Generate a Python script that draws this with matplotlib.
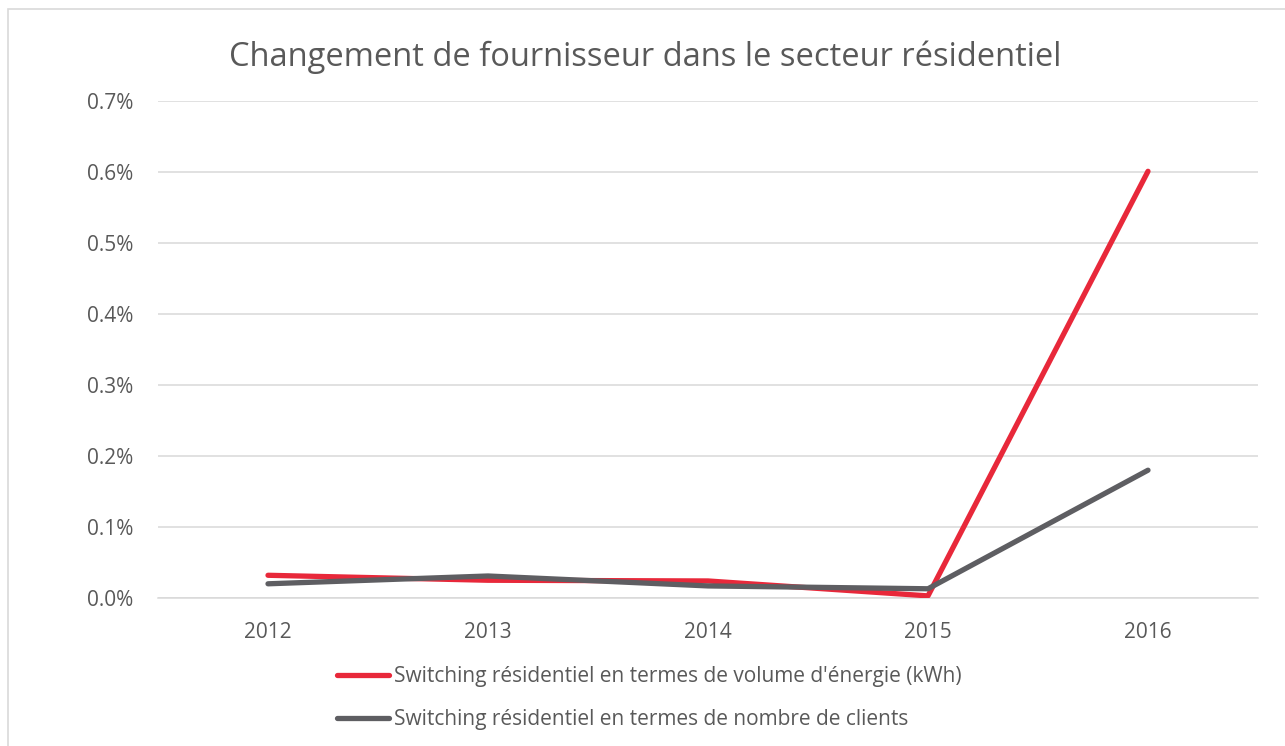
import matplotlib
matplotlib.use("Agg")
import matplotlib.pyplot as plt
from matplotlib.patches import Rectangle
from matplotlib.lines import Line2D

years = ["2012", "2013", "2014", "2015", "2016"]
volume_kwh = [0.00032, 0.00025, 0.00024, 0.00003, 0.00601]
nb_clients = [0.00020, 0.00031, 0.00017, 0.00013, 0.00180]
yticks = [0.0, 0.001, 0.002, 0.003, 0.004, 0.005, 0.006, 0.007]
ytick_labels = ["0.0%", "0.1%", "0.2%", "0.3%", "0.4%", "0.5%", "0.6%", "0.7%"]
title = "Changement de fournisseur dans le secteur résidentiel"
labels = ["Switching résidentiel en termes de volume d'énergie (kWh)",
          "Switching résidentiel en termes de nombre de clients"]

RED = "#E8283A"
GRAY = "#5E5E62"
TXT = "#595959"
GRID = "#D9D9D9"

plt.rcParams['font.family'] = ['Open Sans', 'DejaVu Sans']

fig = plt.figure(figsize=(12.85, 7.46), dpi=100)
fig.patches.append(Rectangle((8/1285, -0.1), 1.2, 0.1 + (746-9)/746, transform=fig.transFigure,
                             fill=False, edgecolor=GRID, linewidth=1.2))

ax = fig.add_axes([158/1285, 1-598/746, 1100/1285, 497/746])
x = list(range(len(years)))
ax.plot(x, volume_kwh, color=RED, lw=3.8, solid_capstyle='round', solid_joinstyle='round', zorder=3)
ax.plot(x, nb_clients, color=GRAY, lw=3.8, solid_capstyle='round', solid_joinstyle='round', zorder=4)

ax.set_xlim(-0.5, len(years)-0.5)
ax.set_ylim(0, 0.007)
ax.set_xticks(x)
ax.set_xticklabels(years)
ax.set_yticks(yticks)
ax.set_yticklabels(ytick_labels)
ax.tick_params(axis='both', length=0, colors=TXT, labelsize=15)
ax.tick_params(axis='x', pad=17)
ax.tick_params(axis='y', pad=18)
ax.grid(axis='y', color=GRID, lw=1.1)
ax.set_axisbelow(True)
for s in ['top', 'right', 'left']:
    ax.spines[s].set_visible(False)
ax.spines['bottom'].set_color(GRID)
ax.spines['bottom'].set_linewidth(1.1)

fig.text(645/1285, 1-57/746, title, ha='center', va='center', fontsize=23.5, color=TXT)

handles = [Line2D([0], [0], color=RED, lw=3.8, solid_capstyle='round'),
           Line2D([0], [0], color=GRAY, lw=3.8, solid_capstyle='round')]
leg = fig.legend(handles, labels, loc='upper left', bbox_to_anchor=(337/1285, 1-666/746),
                 frameon=False, fontsize=15, labelcolor=TXT, handlelength=2.5,
                 handletextpad=0.25, labelspacing=1.05, borderaxespad=0, borderpad=0)

fig.savefig("out.png", dpi=100)
